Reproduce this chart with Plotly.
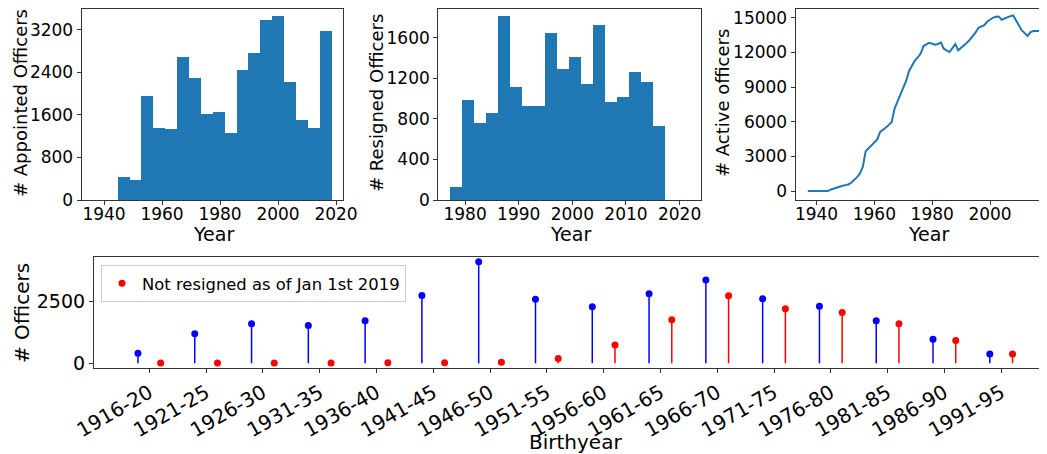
import numpy as np
import plotly.graph_objects as go

# ---------------- data ----------------
# Appointed officers histogram (20 bins)
appointed_range = (1936.4, 2018.4)
appointed_counts = [0, 0, 430, 374, 1946, 1347, 1329, 2676, 2283, 1609,
                    1647, 1254, 2433, 2751, 3369, 3444, 2208, 1497, 1347, 3163]

# Resigned officers histogram (20 bins)
resigned_range = (1977.2, 2021.8)
resigned_counts = [125, 986, 759, 857, 1813, 1114, 926, 926, 1646, 1291,
                   1409, 1143, 1725, 966, 1015, 1261, 1163, 729, 0, 0]

# Active officers per year
active_years = list(range(1937, 2019))
active_counts = [0, 0, 0, 0, 0, 0, 0, 0, 140, 230, 320, 375, 460, 520, 575,
                 720, 950, 1210, 1525, 2100, 3455, 3690, 3915, 4175, 4460,
                 5125, 5300, 5500, 5730, 5990, 7140, 7800, 8380, 8955, 9530,
                 10395, 10855, 11290, 11575, 11890, 12555, 12700, 12840, 12755,
                 12670, 12725, 12870, 12325, 12180, 12035, 12380, 12725, 12180,
                 12380, 12610, 12840, 13100, 13390, 13735, 14140, 14250, 14370,
                 14655, 14830, 15000, 15085, 15115, 14830, 14945, 15030, 15145,
                 15200, 14740, 14280, 13905, 13675, 13420, 13765, 13850, 13850,
                 13850, 13850]

# Birthyear groups
birth_groups = ["1916-20", "1921-25", "1926-30", "1931-35", "1936-40", "1941-45",
                "1946-50", "1951-55", "1956-60", "1961-65", "1966-70", "1971-75",
                "1976-80", "1981-85", "1986-90", "1991-95"]
all_officers = [405, 1189, 1595, 1527, 1716, 2743, 4108, 2595, 2284, 2811,
                3365, 2608, 2311, 1716, 973, 378]
not_resigned = [5, 8, 10, 12, 15, 20, 40, 189, 743, 1757, 2730, 2203, 2054,
                1595, 919, 378]

# ---------------- figure ----------------
SCREEN_W, SCREEN_H = 1047, 454
OFF = 8  # default body margin of the page
W, H = SCREEN_W - OFF, SCREEN_H - OFF
FONT = "DejaVu Sans"
BLUE = "#1f77b4"


def px_x(p):
    return min(1.0, max(0.0, (p - OFF) / W))


def px_y(p):
    return min(1.0, max(0.0, (SCREEN_H - p) / H))


fig = go.Figure()

# histogram 1
a_edges = np.linspace(appointed_range[0], appointed_range[1], len(appointed_counts) + 1)
a_w = a_edges[1] - a_edges[0]
fig.add_trace(go.Bar(x=(a_edges[:-1] + a_w / 2), y=appointed_counts, width=a_w,
                     marker=dict(color=BLUE, line=dict(width=0)),
                     xaxis="x", yaxis="y", showlegend=False))

# histogram 2
r_edges = np.linspace(resigned_range[0], resigned_range[1], len(resigned_counts) + 1)
r_w = r_edges[1] - r_edges[0]
fig.add_trace(go.Bar(x=(r_edges[:-1] + r_w / 2), y=resigned_counts, width=r_w,
                     marker=dict(color=BLUE, line=dict(width=0)),
                     xaxis="x2", yaxis="y2", showlegend=False))

# active line
fig.add_trace(go.Scatter(x=active_years, y=active_counts, mode="lines",
                         line=dict(color=BLUE, width=2),
                         xaxis="x3", yaxis="y3", showlegend=False))

# stems
idx = np.arange(len(birth_groups))
zeros = [0] * len(birth_groups)
fig.add_trace(go.Scatter(x=idx - 0.2, y=all_officers, mode="markers",
                         marker=dict(color="blue", size=7),
                         error_y=dict(type="data", symmetric=False, array=zeros,
                                      arrayminus=all_officers, width=0,
                                      thickness=1.5, color="blue"),
                         xaxis="x4", yaxis="y4", showlegend=False))
fig.add_trace(go.Scatter(x=idx + 0.2, y=not_resigned, mode="markers",
                         marker=dict(color="red", size=7),
                         error_y=dict(type="data", symmetric=False, array=zeros,
                                      arrayminus=not_resigned, width=0,
                                      thickness=1.5, color="red"),
                         name="Not resigned as of Jan 1st 2019",
                         xaxis="x4", yaxis="y4", showlegend=True))

axis_common = dict(showline=True, linecolor="#333333", linewidth=1.2,
                   ticks="outside", ticklen=4, tickcolor="#333333",
                   showgrid=False, zeroline=False, automargin=False,
                   tickformat="d", ticklabeloverflow="allow",
                   tickfont=dict(family=FONT, size=17, color="black"))
top_x = dict(axis_common, ticklabelstandoff=-6)

top_y = [px_y(200), px_y(9.3)]
bot_y = [px_y(368.3), px_y(256.7)]

fig.update_layout(
    width=W, height=H,
    margin=dict(l=0, r=0, t=0, b=0),
    paper_bgcolor="white", plot_bgcolor="white",
    font=dict(family=FONT, color="black"),
    bargap=0,
    xaxis=dict(top_x, domain=[px_x(81.7), px_x(343.3)], range=[1932.3, 2022.5],
               tickvals=[1940, 1960, 1980, 2000, 2020], anchor="y", mirror=True),
    yaxis=dict(axis_common, domain=top_y, range=[0, 3581],
               tickvals=[0, 800, 1600, 2400, 3200], anchor="x", mirror=True),
    xaxis2=dict(top_x, domain=[px_x(438.3), px_x(701)], range=[1975, 2024],
                tickvals=[1980, 1990, 2000, 2010, 2020], anchor="y2", mirror=True),
    yaxis2=dict(axis_common, domain=top_y, range=[0, 1880],
                tickvals=[0, 400, 800, 1200, 1600], anchor="x2", mirror=True),
    xaxis3=dict(top_x, domain=[px_x(795.7), 1], range=[1932.8, 2019.7],
                tickvals=[1940, 1960, 1980, 2000], anchor="y3", mirror=True),
    yaxis3=dict(axis_common, domain=top_y, range=[-770, 15735],
                tickvals=[0, 3000, 6000, 9000, 12000, 15000], anchor="x3", mirror=False),
    xaxis4=dict(axis_common, domain=[px_x(94), 1], range=[-0.974, 15.807],
                tickvals=list(idx), ticktext=birth_groups, tickangle=-30,
                tickfont=dict(family=FONT, size=20, color="black"),
                anchor="y4", mirror=True),
    yaxis4=dict(axis_common, domain=bot_y, range=[-205, 4313],
                tickvals=[0, 2500], tickfont=dict(family=FONT, size=19, color="black"),
                anchor="x4", mirror=False),
    legend=dict(x=px_x(101), y=px_y(265), xanchor="left", yanchor="top",
                bgcolor="rgba(255,255,255,0.8)", bordercolor="#cccccc", borderwidth=1,
                font=dict(family=FONT, size=16.4, color="black")),
)

ann = []


def ylab(text, x, y, size):
    ann.append(dict(text=text, x=px_x(x), y=px_y(y), xref="paper", yref="paper",
                    showarrow=False, textangle=-90, xanchor="center", yanchor="middle",
                    font=dict(family=FONT, size=size, color="black")))


def xlab(text, x, y, size):
    ann.append(dict(text=text, x=px_x(x), y=px_y(y), xref="paper", yref="paper",
                    showarrow=False, xanchor="center", yanchor="middle",
                    font=dict(family=FONT, size=size, color="black")))


ylab("# Appointed Officers", 21, 103, 18)
ylab("# Resigned Officers", 377, 103, 18)
ylab("# Active officers", 723, 103, 18)
ylab("# Officers", 22, 313, 20)
xlab("Year", 213, 234, 19)
xlab("Year", 570, 234, 19)
xlab("Year", 928, 234, 19)
xlab("Birthyear", 575, 442, 20)

fig.update_layout(annotations=ann)

fig.write_html("out.html")
